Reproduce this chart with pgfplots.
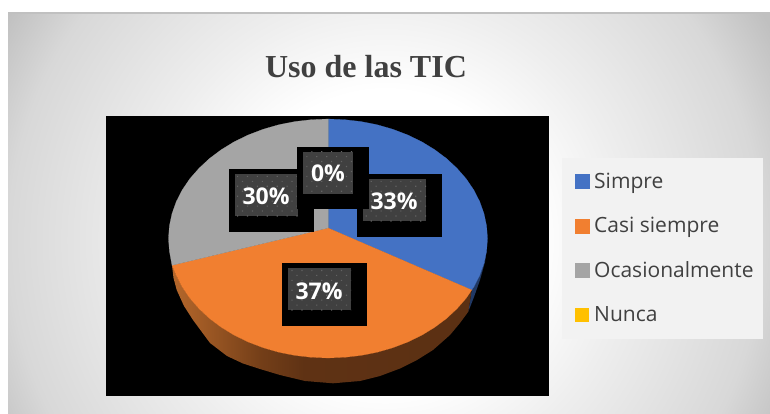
\documentclass[border=0pt]{standalone}
\usepackage{fontspec}
\setmainfont{Open Sans}
\newfontfamily\titlefont{Liberation Serif}
\usepackage{pgfplots}
\pgfplotsset{compat=1.18}
\usetikzlibrary{patterns.meta}
\definecolor{pieblue}{HTML}{4472C4}
\definecolor{pieorange}{HTML}{F17F30}
\definecolor{piegray}{HTML}{A5A5A5}
\definecolor{pieyellow}{HTML}{FFC000}
\definecolor{wallblue}{HTML}{203864}
\definecolor{txt}{HTML}{404040}
\definecolor{panel}{HTML}{F2F2F2}
\definecolor{boxdark}{HTML}{404040}
\definecolor{boxdot}{HTML}{626262}
\definecolor{bgA}{HTML}{FFFFFF}
\definecolor{bgB}{HTML}{EEEEEE}
\definecolor{bgC}{HTML}{D8D8D8}
\definecolor{bgD}{HTML}{C0C0C0}
\definecolor{wA}{HTML}{B5672B}
\definecolor{wB}{HTML}{A05A25}
\definecolor{wC}{HTML}{733E18}
\definecolor{wD}{HTML}{5F3214}
\definecolor{wE}{HTML}{5B3013}
\pgfdeclareradialshading{bgshade}{\pgfpoint{0bp}{0bp}}{color(0bp)=(bgA); color(8.7bp)=(bgA); color(14bp)=(bgB); color(21.9bp)=(bgC); color(25.6bp)=(bgD); color(50bp)=(bgD)}
\pgfdeclarehorizontalshading{wallshade}{100bp}{color(0bp)=(wA); color(25bp)=(wA); color(30bp)=(wB); color(40bp)=(wC); color(47bp)=(wD); color(75bp)=(wE); color(100bp)=(wE)}
\newcommand{\plabel}[5]{%
  \fill[black] (axis cs:#1,#2) rectangle (axis cs:#1+85,#2+63);
  \fill[boxdark] (axis cs:#1+6,#2+5) rectangle (axis cs:#1+69,#2+47);
  \fill[pattern={Dots[distance=7pt,radius=0.8pt,angle=45]},pattern color=boxdot] (axis cs:#1+6,#2+5) rectangle (axis cs:#1+69,#2+47);
  \node[text=white,font=\fontsize{23}{23}\selectfont\bfseries,inner sep=0pt] at (axis cs:#3,#4) {#5};
}
\begin{document}
\begin{tikzpicture}[x=1pt,y=1pt]
\path[use as bounding box] (0,0) rectangle (770,414);
\begin{scope}
\clip (8,0) rectangle (770,401);
\shade[shading=bgshade] (-45,-256) rectangle (815,604);
\end{scope}
\fill[bgD] (8,399.5) rectangle (770,401.5);
\begin{axis}[
  at={(0,0)},anchor=south west,scale only axis,width=770pt,height=414pt,
  xmin=0,xmax=770,ymin=0,ymax=414,y dir=reverse,hide axis,clip=false,
  legend style={at={(axis cs:575,173)},anchor=north west,draw=none,fill=none,
    font=\fontsize{21}{25}\selectfont,text=txt,row sep=27.5pt,inner sep=0pt,outer sep=0pt,
    nodes={inner sep=0pt}},
  legend cell align=left,
  legend image code/.code={\path[#1] (0pt,-7pt) rectangle (14pt,7pt);\path (19pt,0pt);},
]
\fill[black] (axis cs:106,116) rectangle (axis cs:549,396);
\fill[panel] (axis cs:562,158) rectangle (axis cs:763,339);
% side walls
\addplot[forget plot,draw=none,fill=wallblue] coordinates {(486.6,251)(484,263.3)(479.7,275.4)(473.7,287.1)(471.7,290)(468.3,311.7)(474,297)(480,280)(485,262)(486.6,251)};
\addplot[forget plot,draw=none,shading=wallshade] coordinates {
(471.7,290)(466.1,298.3)(457,308.7)(446.5,318.5)(434.7,327.3)(421.8,335.2)(407.8,342)(392.9,347.7)(377.3,352.2)(361.2,355.4)(344.7,357.3)(328,358)(311.3,357.3)(294.8,355.4)(278.7,352.2)(263.1,347.7)(248.2,342)(234.2,335.2)(221.3,327.3)(209.5,318.5)(199,308.7)(189.9,298.3)(182.3,287.1)(176.3,275.4)(172,265.3)
(173.5,278)(176.7,290)(184,306)(193,320)(210,343)(227,356)(243,363.5)(260,369)(280,375)(305,381)(333,383.3)(360,381)(380,376)(400,368.5)(417,360)(433,350)(450,335)(460,323)(468.3,311.7)(471.7,290)};
% top surface: Simpre 33, Casi siempre 37, Ocasionalmente 30, Nunca 0
\addplot[draw=pieblue,line width=0.2pt,fill=pieblue] coordinates {
(328,228)(328,119)(344.7,119.7)(361.2,121.6)(377.3,124.8)(392.9,129.3)(407.8,135)(421.8,141.8)(434.7,149.7)(446.5,158.5)(457,168.3)(466.1,178.7)(473.7,189.9)(479.7,201.6)(484,213.7)(486.6,226)(487.5,238.5)(486.6,251)(484,263.3)(479.7,275.4)(473.7,287.1)(471.7,290)(328,228)};
\addlegendentry{Simpre}
\addplot[draw=pieorange,line width=0.2pt,fill=pieorange] coordinates {
(328,228)(471.7,290)(466.1,298.3)(457,308.7)(446.5,318.5)(434.7,327.3)(421.8,335.2)(407.8,342)(392.9,347.7)(377.3,352.2)(361.2,355.4)(344.7,357.3)(328,358)(311.3,357.3)(294.8,355.4)(278.7,352.2)(263.1,347.7)(248.2,342)(234.2,335.2)(221.3,327.3)(209.5,318.5)(199,308.7)(189.9,298.3)(182.3,287.1)(176.3,275.4)(172,265.3)(328,228)};
\addlegendentry{Casi siempre}
\addplot[draw=piegray,line width=0.2pt,fill=piegray] coordinates {
(328,228)(172,265.3)(169.4,251)(168.5,238.5)(169.4,226)(172,213.7)(176.3,201.6)(182.3,189.9)(189.9,178.7)(199,168.3)(209.5,158.5)(221.3,149.7)(234.2,141.8)(248.2,135)(263.1,129.3)(278.7,124.8)(294.8,121.6)(311.3,119.7)(328,119)(328,228)};
\addlegendentry{Ocasionalmente}
\addplot[draw=none,fill=pieyellow] coordinates {(328,228)(328,119)(328,228)};
\addlegendentry{Nunca}
% data labels
\plabel{357}{174}{394}{201}{33\%}
\plabel{282}{263}{319}{291}{37\%}
\plabel{229}{169}{266}{196}{30\%}
\fill[black] (axis cs:297,147) rectangle (axis cs:369,209);
\fill[boxdark] (axis cs:303,152) rectangle (axis cs:353,194);
\fill[pattern={Dots[distance=7pt,radius=0.8pt,angle=45]},pattern color=boxdot] (axis cs:303,152) rectangle (axis cs:353,194);
\node[text=white,font=\fontsize{23}{23}\selectfont\bfseries,inner sep=0pt] at (axis cs:328,173) {0\%};
\node[text=txt,font=\titlefont\fontsize{32}{32}\selectfont\bfseries,inner sep=0pt] at (axis cs:366,67) {Uso de las TIC};
\end{axis}
\end{tikzpicture}
\end{document}
